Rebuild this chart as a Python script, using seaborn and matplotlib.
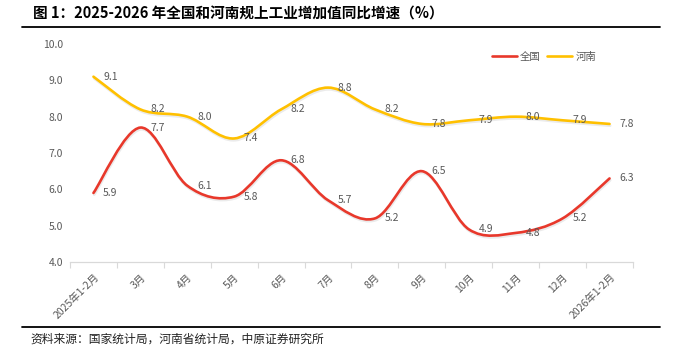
import numpy as np
import pandas as pd
import matplotlib
matplotlib.use("Agg")
import matplotlib.pyplot as plt
import seaborn as sns
from matplotlib.path import Path
from matplotlib.patches import PathPatch
from matplotlib.lines import Line2D
import matplotlib.patheffects as pe

# ---- data ----
categories = ["2025年1-2月", "3月", "4月", "5月", "6月", "7月", "8月",
              "9月", "10月", "11月", "12月", "2026年1-2月"]
national = [5.9, 7.7, 6.1, 5.8, 6.8, 5.7, 5.2, 6.5, 4.9, 4.8, 5.2, 6.3]
henan = [9.1, 8.2, 8.0, 7.4, 8.2, 8.8, 8.2, 7.8, 7.9, 8.0, 7.9, 7.8]
series_names = ["全国", "河南"]
yticks = [4.0, 5.0, 6.0, 7.0, 8.0, 9.0, 10.0]
title = "图 1：2025-2026 年全国和河南规上工业增加值同比增速（%）"
source = "资料来源：国家统计局，河南省统计局，中原证券研究所"

colors = {"全国": "#E8382B", "河南": "#FFC000"}
label_color = "#595959"

sns.set_theme(style="white")
plt.rcParams["font.family"] = ["Noto Sans CJK SC", "DejaVu Sans"]

W, H = 688, 352
fig = plt.figure(figsize=(W / 100, H / 100), dpi=100)
ax = fig.add_axes([70 / W, 1 - 262 / H, 563 / W, 218 / H])

df = pd.DataFrame({
    "月份": categories * 2,
    "增速": national + henan,
    "地区": [series_names[0]] * len(national) + [series_names[1]] * len(henan),
})
sns.lineplot(data=df, x="月份", y="增速", hue="地区", palette=colors,
             ax=ax, legend=False, sort=False, linewidth=1.9)


def smooth_path(xs, ys):
    pts = np.column_stack([xs, ys])
    n = len(pts)
    verts = [pts[0]]
    codes = [Path.MOVETO]
    for i in range(n - 1):
        p0 = pts[max(i - 1, 0)]
        p1 = pts[i]
        p2 = pts[i + 1]
        p3 = pts[min(i + 2, n - 1)]
        c1 = p1 + (p2 - p0) / 6.0
        c2 = p2 - (p3 - p1) / 6.0
        verts += [c1, c2, p2]
        codes += [Path.CURVE4] * 3
    return Path(verts, codes)


# replace seaborn's straight lines with smoothed curves through the same points
for line in list(ax.get_lines()):
    xs, ys = line.get_xdata(), line.get_ydata()
    if len(xs) < 2:
        continue
    col = line.get_color()
    patch = PathPatch(smooth_path(np.asarray(xs, float), np.asarray(ys, float)),
                      facecolor="none", edgecolor=col, lw=1.9, capstyle="round",
                      joinstyle="round", zorder=3)
    patch.set_path_effects([
        pe.SimpleLineShadow(offset=(0.5, -1.3), shadow_color="black", alpha=0.08, rho=1),
        pe.Normal()])
    ax.add_patch(patch)
    line.remove()

# data labels
for vals in (national, henan):
    for i, v in enumerate(vals):
        ax.annotate(f"{v:.1f}", (i, v), xytext=(7, 0), textcoords="offset points",
                    ha="left", va="center", fontsize=7.5, color=label_color, zorder=4)

ax.set_xlim(-0.5, len(categories) - 0.5)
ax.set_ylim(yticks[0], yticks[-1])
ax.set_yticks(yticks)
ax.set_yticklabels([f"{t:.1f}" for t in yticks])
ax.set_xticks(range(len(categories)))
ax.set_xticklabels(categories, rotation=45, ha="right", rotation_mode="anchor")
ax.set_xticks(np.arange(-0.5, len(categories), 1.0), minor=True)
ax.tick_params(axis="x", which="major", length=0, pad=7, labelsize=7.5, labelcolor=label_color)
ax.tick_params(axis="x", which="minor", length=4, width=0.8, color="#D9D9D9", direction="out",
               bottom=True)
ax.tick_params(axis="y", length=0, pad=5, labelsize=7.5, labelcolor=label_color)
ax.set_xlabel("")
ax.set_ylabel("")
ax.grid(False)
for s in ("top", "right", "left"):
    ax.spines[s].set_visible(False)
ax.spines["bottom"].set_color("#D9D9D9")
ax.spines["bottom"].set_linewidth(0.9)

# legend
handles = [Line2D([], [], color=colors[n], lw=1.9) for n in series_names]
fig.legend(handles, series_names, loc="center left",
           bbox_to_anchor=(492 / W, 1 - 57 / H), ncol=2, frameon=False,
           fontsize=7.5, labelcolor=label_color, handlelength=2.4,
           handletextpad=0.3, columnspacing=0.6, borderpad=0, borderaxespad=0)

# title, rules, source
fig.text(33 / W, 1 - 14 / H, title, fontsize=10.5, fontweight="bold",
         ha="left", va="center", color="black")
fig.add_artist(Line2D([22 / W, 660 / W], [1 - 27 / H] * 2, color="black", lw=1.3))
fig.add_artist(Line2D([22 / W, 660 / W], [1 - 327 / H] * 2, color="black", lw=1.3))
fig.text(30 / W, 1 - 339 / H, source, fontsize=8.5, ha="left", va="center", color="#222222")

fig.savefig("out.png", dpi=100)
